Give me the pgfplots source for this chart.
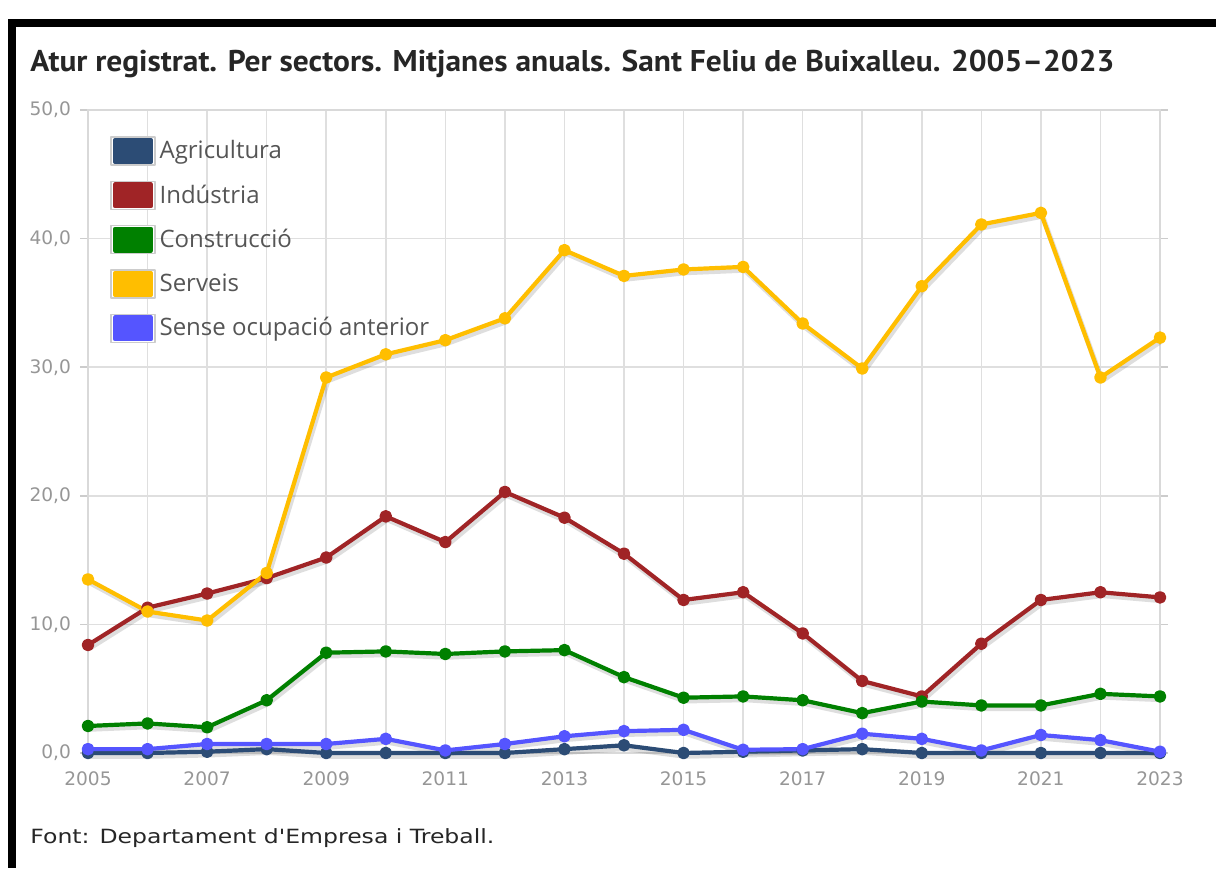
\documentclass[border=0pt]{standalone}
\usepackage{pgfplots}
\pgfplotsset{compat=1.18}
\usepackage{pgfplotstable}
\usepackage{fontspec}
\setmainfont{Open Sans}
\newfontfamily\titlefont{PT Sans}
\newfontfamily\tickfont{DejaVu Sans}
\definecolor{cAgr}{RGB}{44,76,117}
\definecolor{cInd}{RGB}{160,36,38}
\definecolor{cCon}{RGB}{0,128,0}
\definecolor{cSer}{RGB}{255,190,0}
\definecolor{cSen}{RGB}{85,85,255}
\definecolor{ctick}{RGB}{150,150,150}
\definecolor{cleg}{RGB}{85,85,85}

\pgfplotstableread{
year agr ind con ser sen
2005 0.0 8.4 2.1 13.5 0.3
2006 0.0 11.3 2.3 11.0 0.3
2007 0.1 12.4 2.0 10.3 0.7
2008 0.3 13.6 4.1 14.0 0.7
2009 0.0 15.2 7.8 29.2 0.7
2010 0.0 18.4 7.9 31.0 1.1
2011 0.0 16.4 7.7 32.1 0.2
2012 0.0 20.3 7.9 33.8 0.7
2013 0.3 18.3 8.0 39.1 1.3
2014 0.6 15.5 5.9 37.1 1.7
2015 0.0 11.9 4.3 37.6 1.8
2016 0.1 12.5 4.4 37.8 0.25
2017 0.2 9.3 4.1 33.4 0.3
2018 0.3 5.6 3.1 29.9 1.5
2019 0.0 4.4 4.0 36.3 1.1
2020 0.0 8.5 3.7 41.1 0.2
2021 0.0 11.9 3.7 42.0 1.4
2022 0.0 12.5 4.6 29.2 1.0
2023 0.0 12.1 4.4 32.3 0.1
}\data

\newcommand{\legimg}[1]{%
  \draw[draw=gray!40,fill=white,line width=0.6pt] (0pt,-7pt) rectangle (22pt,7pt);
  \fill[#1] (2pt,-5.4pt) rectangle (20pt,5.4pt);}

\begin{document}
\begin{tikzpicture}
\path[use as bounding box] (0,0) rectangle (608pt,434pt);
\fill[black] (4pt,0pt) rectangle (8pt,424.5pt);
\fill[black] (4pt,420.5pt) rectangle (608pt,424.5pt);
\node[anchor=base west, inner sep=0pt, text=black!85] at (15pt,398pt)
  {\resizebox{542pt}{\height}{\titlefont\fontsize{15}{18}\selectfont\bfseries Atur registrat. Per sectors. Mitjanes anuals. Sant Feliu de Buixalleu. 2005–2023}};
\node[anchor=base west, inner sep=0pt, text=black!85] at (15pt,12.5pt)
  {\resizebox{232pt}{\height}{\tickfont\fontsize{9.8}{12}\selectfont Font: Departament d'Empresa i Treball.}};
\begin{axis}[
  at={(44pt,57.5pt)}, anchor=south west,
  scale only axis, width=536pt, height=321.5pt,
  xmin=2005, xmax=2023, ymin=0, ymax=50,
  xtick={2005,2007,...,2023},
  minor xtick={2006,2008,...,2022},
  ytick={0,10,...,50},
  grid=both,
  major grid style={gray!25, line width=0.8pt},
  minor grid style={gray!25, line width=0.8pt},
  axis line style={gray!30, line width=0.8pt},
  tick align=outside, major tick length=4pt,
  xtick style={draw=none}, minor tick length=0pt,
  ytick style={gray!40, line width=0.8pt},
  clip=false,
  tick label style={font=\tickfont\fontsize{9.3}{11}\selectfont, text=ctick},
  /pgf/number format/assume math mode=true,
  yticklabel style={xshift=-1pt, /pgf/number format/.cd, fixed, fixed zerofill, precision=1, use comma},
  xticklabel style={yshift=-2pt, /pgf/number format/.cd, fixed, precision=0, set thousands separator={}},
  legend style={at={(0,1)}, anchor=north west, xshift=8pt, yshift=-11pt,
    draw=none, fill=none, font=\fontsize{12}{14}\selectfont, text=cleg,
    row sep=7.5pt, /tikz/every even column/.append style={column sep=4.5pt}},
  legend cell align=left,
  every axis plot/.append style={line width=2.1pt, mark=*, mark size=2.1pt, line join=round},
  shadow/.style={black, opacity=0.13, line width=2.6pt, mark=none, forget plot, xshift=0.8pt, yshift=-1.6pt},
]
\addplot[shadow] table[x=year,y=agr]{\data};
\addplot[shadow] table[x=year,y=ind]{\data};
\addplot[shadow] table[x=year,y=con]{\data};
\addplot[shadow] table[x=year,y=ser]{\data};
\addplot[shadow] table[x=year,y=sen]{\data};
\addplot[cAgr, legend image code/.code={\legimg{cAgr}}] table[x=year,y=agr]{\data};
\addlegendentry{Agricultura}
\addplot[cInd, legend image code/.code={\legimg{cInd}}] table[x=year,y=ind]{\data};
\addlegendentry{Indústria}
\addplot[cCon, legend image code/.code={\legimg{cCon}}] table[x=year,y=con]{\data};
\addlegendentry{Construcció}
\addplot[cSer, legend image code/.code={\legimg{cSer}}] table[x=year,y=ser]{\data};
\addlegendentry{Serveis}
\addplot[cSen, legend image code/.code={\legimg{cSen}}] table[x=year,y=sen]{\data};
\addlegendentry{Sense ocupació anterior}
\end{axis}
\end{tikzpicture}
\end{document}
